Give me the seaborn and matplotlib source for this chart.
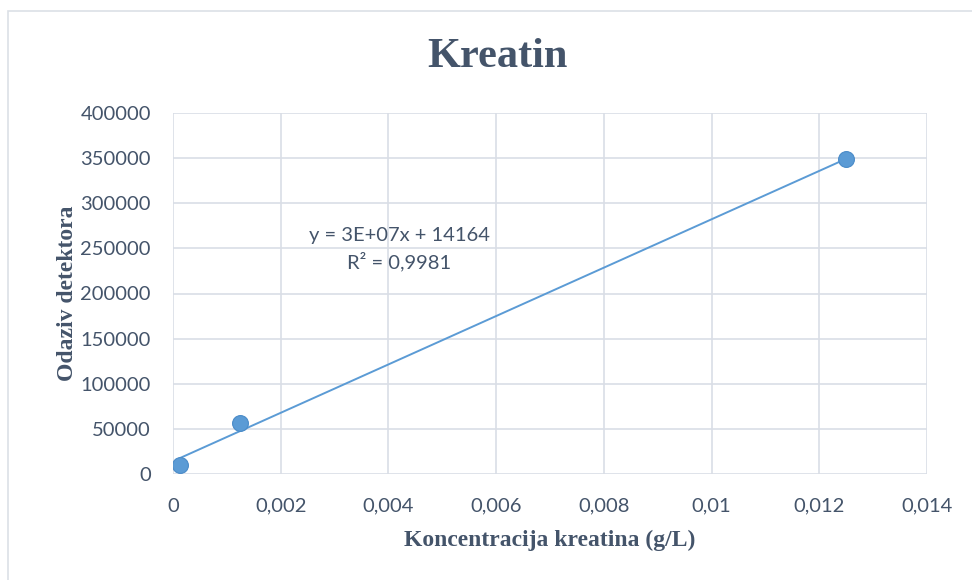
import numpy as np
import pandas as pd
import seaborn as sns
import matplotlib.pyplot as plt
from matplotlib.patches import Rectangle
from matplotlib.ticker import FuncFormatter

# === data ===
koncentracija = [0.000125, 0.00125, 0.0125]
odaziv = [10000, 56000, 348500]
x_ticks = [0, 0.002, 0.004, 0.006, 0.008, 0.01, 0.012, 0.014]
y_ticks = [0, 50000, 100000, 150000, 200000, 250000, 300000, 350000, 400000]
equation_text = "y = 3E+07x + 14164\nR² = 0,9981"

df = pd.DataFrame({"x": koncentracija, "y": odaziv})

sns.set_theme(style="white")
plt.rcParams["font.family"] = ["Lato", "DejaVu Sans"]

text_col = "#44546A"
blue = "#5B9BD5"
grid_col = "#D9DEE6"

fig = plt.figure(figsize=(9.72, 5.8), dpi=100)
ax = fig.add_axes([173 / 972, 1 - 474 / 580, (927 - 173) / 972, (474 - 113) / 580])

# outer chart border (only left/top visible in the crop)
fig.patches.append(Rectangle((8 / 972, -0.1), 1.2, 1 - 11 / 580 + 0.1,
                             transform=fig.transFigure, fill=False,
                             edgecolor="#DCE0E6", linewidth=1.2))

sns.regplot(data=df, x="x", y="y", ax=ax, ci=None, truncate=True,
            scatter_kws={"s": 130, "color": blue, "edgecolor": "#4A8BC8",
                         "linewidths": 0.8, "alpha": 1, "zorder": 4},
            line_kws={"color": blue, "linewidth": 1.4, "zorder": 3})

ax.set_xlim(0, 0.014)
ax.set_ylim(0, 400000)
ax.set_xticks(x_ticks)
ax.set_yticks(y_ticks)

def fmt_x(v, pos):
    if v == 0:
        return "0"
    return f"{v:.3f}".rstrip("0").replace(".", ",")

ax.xaxis.set_major_formatter(FuncFormatter(fmt_x))
ax.yaxis.set_major_formatter(FuncFormatter(lambda v, p: f"{int(v)}"))

ax.grid(True, color=grid_col, linewidth=1.2)
ax.set_axisbelow(True)
for s in ax.spines.values():
    s.set_visible(False)
ax.tick_params(axis="both", length=0, labelsize=14.5, colors=text_col)
ax.tick_params(axis="x", pad=17)
ax.tick_params(axis="y", pad=16)

ax.set_xlabel("Koncentracija kreatina (g/L)", family="Liberation Serif",
              fontweight="bold", fontsize=17, color=text_col, labelpad=11)
ax.set_ylabel("Odaziv detektora", family="Liberation Serif",
              fontweight="bold", fontsize=17, color=text_col, labelpad=2)

fig.text(497 / 972, 1 - 57 / 580, "Kreatin", family="Liberation Serif",
         fontweight="bold", fontsize=30.5, color=text_col, ha="center", va="center")

ax.text(0.0042, 249000, equation_text, ha="center", va="center",
        fontsize=14.5, color=text_col, linespacing=1.45)

fig.savefig("out.png", dpi=100)
